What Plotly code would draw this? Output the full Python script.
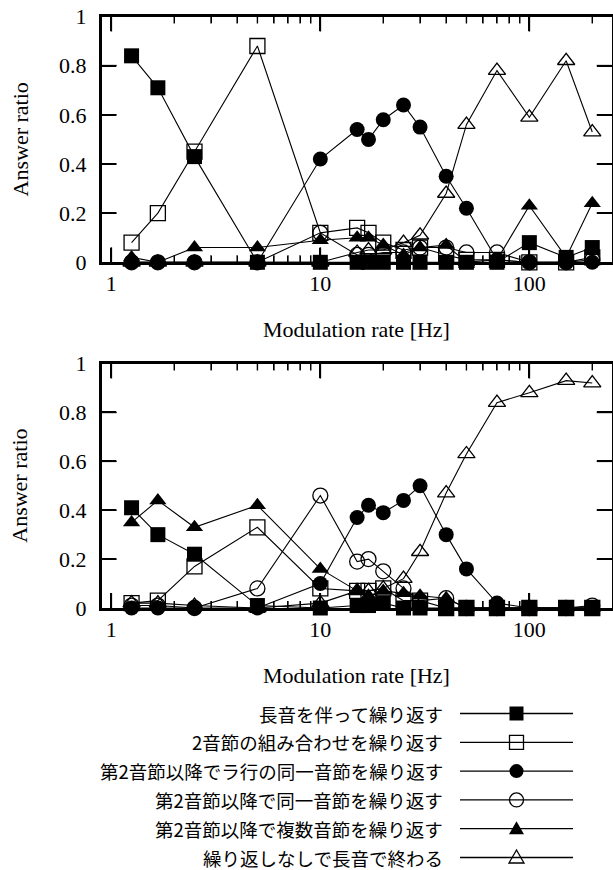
import math
import plotly.graph_objects as go

# ---------------- data ----------------
freq = [1.25, 1.67, 2.5, 5, 10, 15, 17, 20, 25, 30, 40, 50, 70, 100, 150, 200]

series_names = [
    "長音を伴って繰り返す",
    "2音節の組み合わせを繰り返す",
    "第2音節以降でラ行の同一音節を繰り返す",
    "第2音節以降で同一音節を繰り返す",
    "第2音節以降で複数音節を繰り返す",
    "繰り返しなしで長音で終わる",
]

top_long   = [0.84, 0.71, 0.43, 0.00, 0.00, 0.00, 0.00, 0.00, 0.00, 0.00, 0.00, 0.00, 0.00, 0.08, 0.02, 0.06]
top_two    = [0.08, 0.20, 0.45, 0.88, 0.12, 0.14, 0.12, 0.08, 0.05, 0.06, 0.03, 0.01, 0.01, 0.00, 0.00, 0.02]
top_ra     = [0.00, 0.00, 0.00, 0.00, 0.42, 0.54, 0.50, 0.58, 0.64, 0.55, 0.35, 0.22, 0.01, 0.00, 0.00, 0.00]
top_same   = [0.00, 0.00, 0.00, 0.00, 0.12, 0.03, 0.03, 0.04, 0.04, 0.06, 0.06, 0.04, 0.04, 0.00, 0.00, 0.01]
top_multi  = [0.02, 0.00, 0.06, 0.06, 0.09, 0.10, 0.10, 0.07, 0.03, 0.06, 0.07, 0.00, 0.01, 0.23, 0.02, 0.24]
top_norep  = [0.00, 0.00, 0.00, 0.00, 0.00, 0.04, 0.05, 0.05, 0.08, 0.11, 0.28, 0.56, 0.78, 0.59, 0.82, 0.53]

bot_long   = [0.41, 0.30, 0.22, 0.01, 0.00, 0.01, 0.01, 0.02, 0.00, 0.00, 0.00, 0.00, 0.00, 0.00, 0.00, 0.00]
bot_two    = [0.02, 0.03, 0.17, 0.33, 0.08, 0.07, 0.07, 0.08, 0.03, 0.03, 0.00, 0.00, 0.00, 0.00, 0.00, 0.00]
bot_ra     = [0.00, 0.00, 0.00, 0.00, 0.10, 0.37, 0.42, 0.39, 0.44, 0.50, 0.30, 0.16, 0.02, 0.00, 0.00, 0.00]
bot_same   = [0.01, 0.01, 0.00, 0.08, 0.46, 0.19, 0.20, 0.15, 0.08, 0.03, 0.04, 0.00, 0.00, 0.00, 0.00, 0.01]
bot_multi  = [0.35, 0.44, 0.33, 0.42, 0.16, 0.07, 0.05, 0.07, 0.06, 0.05, 0.04, 0.00, 0.00, 0.00, 0.00, 0.00]
bot_norep  = [0.02, 0.02, 0.01, 0.00, 0.02, 0.07, 0.07, 0.08, 0.12, 0.23, 0.47, 0.63, 0.84, 0.88, 0.93, 0.92]

top_series = [top_long, top_two, top_ra, top_same, top_multi, top_norep]
bot_series = [bot_long, bot_two, bot_ra, bot_same, bot_multi, bot_norep]

x_tick_vals = [1, 10, 100]
x_tick_text = ["1", "10", "100"]
x_minor_vals = [2, 3, 4, 5, 6, 7, 8, 9, 20, 30, 40, 50, 60, 70, 80, 90, 200]
y_tick_vals = [0, 0.2, 0.4, 0.6, 0.8, 1]
y_tick_text = ["0", "0.2", "0.4", "0.6", "0.8", "1"]

x_title = "Modulation rate [Hz]"
y_title = "Answer ratio"

# ---------------- styling ----------------
W, H = 613, 870
def px(x):
    return x / W
def py(y):
    return 1 - y / H

symbols = ["square", "square-open", "circle", "circle-open", "triangle-up", "triangle-up-open"]
LATIN = "Liberation Serif"
CJK = "Noto Sans CJK JP"
MS = 15

PLOT_L, PLOT_R = 101.7, 611.7
TOP_T, TOP_B = 16.5, 262.3
BOT_T, BOT_B = 363.5, 608.0
X_DOM = [px(PLOT_L), px(PLOT_R)]
X_RANGE = [-0.046, 2.394]
MAJOR_LEN, MINOR_LEN = 15, 7

def marker_style(sym, size=MS):
    if sym.endswith("-open"):
        return dict(symbol=sym, size=size, color="black", line=dict(color="black", width=1.3))
    return dict(symbol=sym, size=size, color="black")

fig = go.Figure()

for axis_suffix, data in (("", top_series), ("2", bot_series)):
    for name, sym, vals in zip(series_names, symbols, data):
        fig.add_trace(go.Scatter(
            x=freq, y=vals, mode="lines+markers",
            xaxis="x" + axis_suffix, yaxis="y" + axis_suffix,
            line=dict(color="black", width=1.1),
            marker=marker_style(sym),
            cliponaxis=False,
        ))

# ---------------- inside tick marks as page-level line shapes ----------------
def x_pix(v):
    return PLOT_L + (math.log10(v) - X_RANGE[0]) / (X_RANGE[1] - X_RANGE[0]) * (PLOT_R - PLOT_L)

def tick(x0, y0, x1, y1, lw):
    fig.add_shape(type="line", xref="paper", yref="paper",
                  x0=px(x0), x1=px(x1), y0=py(y0), y1=py(y1),
                  line=dict(color="black", width=lw), layer="above")

for t, b in ((TOP_T, TOP_B), (BOT_T, BOT_B)):
    for vals, ln, lw in ((x_tick_vals, MAJOR_LEN, 1.6), (x_minor_vals, MINOR_LEN, 1.4)):
        for v in vals:
            xx = x_pix(v)
            if not PLOT_L <= xx <= PLOT_R:
                continue
            tick(xx, b, xx, b - ln, lw)
            tick(xx, t, xx, t + ln, lw)
    for v in y_tick_vals:
        if v <= 0 or v >= 1:
            continue
        yy = b - v * (b - t)
        tick(PLOT_L, yy, PLOT_L + MAJOR_LEN, yy, 1.6)
        tick(PLOT_R, yy, PLOT_R - MAJOR_LEN, yy, 1.6)

# ---------------- manual legend: text on the left, line + symbol sample on the right ----------------
LEG_Y0, LEG_DY = 713.5, 28.8
LEG_X_TEXT, LEG_X0, LEG_XM, LEG_X1 = 445, 460, 516.5, 573
HALF = 7

def legend_symbol(sym, xc, yc):
    filled = not sym.endswith("-open")
    fill = "black" if filled else "rgba(0,0,0,0)"
    lw = 0 if filled else 1.3
    common = dict(xref="paper", yref="paper", fillcolor=fill,
                  line=dict(color="black", width=lw), layer="above")
    if sym.startswith("square"):
        fig.add_shape(type="rect", x0=px(xc - HALF), x1=px(xc + HALF),
                      y0=py(yc + HALF), y1=py(yc - HALF), **common)
    elif sym.startswith("circle"):
        fig.add_shape(type="circle", x0=px(xc - HALF), x1=px(xc + HALF),
                      y0=py(yc + HALF), y1=py(yc - HALF), **common)
    else:
        top, bot = yc - HALF - 0.5, yc + HALF - 1.5
        path = "M {:.5f},{:.5f} L {:.5f},{:.5f} L {:.5f},{:.5f} Z".format(
            px(xc), py(top), px(xc + HALF + 0.5), py(bot), px(xc - HALF - 0.5), py(bot))
        fig.add_shape(type="path", path=path, **common)

for i, (name, sym) in enumerate(zip(series_names, symbols)):
    yy = LEG_Y0 + i * LEG_DY
    fig.add_shape(type="line", xref="paper", yref="paper",
                  x0=px(LEG_X0), x1=px(LEG_X1), y0=py(yy), y1=py(yy),
                  line=dict(color="black", width=1.3), layer="above")
    legend_symbol(sym, LEG_XM, yy)
    fig.add_annotation(
        x=px(LEG_X_TEXT), y=py(yy), xref="paper", yref="paper", text=name,
        showarrow=False, xanchor="right", yanchor="middle",
        font=dict(family=CJK, size=18.5, color="black"),
    )

def xaxis(anchor):
    return dict(
        type="log", range=X_RANGE, domain=X_DOM, anchor=anchor,
        showline=True, linewidth=2.5, linecolor="black", mirror="allticks",
        showgrid=False, zeroline=False,
        tickmode="array", tickvals=x_tick_vals, ticktext=x_tick_text,
        ticks="inside", ticklen=MAJOR_LEN, tickwidth=1.6, tickcolor="black",
        minor=dict(tickmode="array", tickvals=x_minor_vals, ticks="inside",
                   ticklen=MINOR_LEN, tickwidth=1.4, tickcolor="black", showgrid=False),
        tickfont=dict(family=LATIN, size=22, color="black"),
    )

def yaxis(anchor, dom):
    return dict(
        range=[0, 1], domain=dom, anchor=anchor,
        showline=True, linewidth=2.5, linecolor="black", mirror="allticks",
        showgrid=False, zeroline=False,
        tickmode="array", tickvals=y_tick_vals, ticktext=y_tick_text,
        ticks="inside", ticklen=MAJOR_LEN, tickwidth=1.6, tickcolor="black",
        tickfont=dict(family=LATIN, size=22, color="black"),
        ticklabelstandoff=8,
    )

fig.update_layout(
    template="none",
    width=W, height=H,
    margin=dict(l=0, r=0, t=0, b=0),
    paper_bgcolor="white", plot_bgcolor="white",
    showlegend=False,
    xaxis=xaxis("y"),
    yaxis=yaxis("x", [py(TOP_B), py(TOP_T)]),
    xaxis2=xaxis("y2"),
    yaxis2=yaxis("x2", [py(BOT_B), py(BOT_T)]),
)

for yc_plot, xt_y in (((TOP_T + TOP_B) / 2, 329), ((BOT_T + BOT_B) / 2, 675)):
    fig.add_annotation(x=px((PLOT_L + PLOT_R) / 2), y=py(xt_y), xref="paper", yref="paper",
                       text=x_title, showarrow=False, xanchor="center", yanchor="middle",
                       font=dict(family=LATIN, size=22, color="black"))
    fig.add_annotation(x=px(20), y=py(yc_plot), xref="paper", yref="paper",
                       text=y_title, showarrow=False, textangle=-90,
                       xanchor="center", yanchor="middle",
                       font=dict(family=LATIN, size=22, color="black"))

fig.write_html("out.html")
